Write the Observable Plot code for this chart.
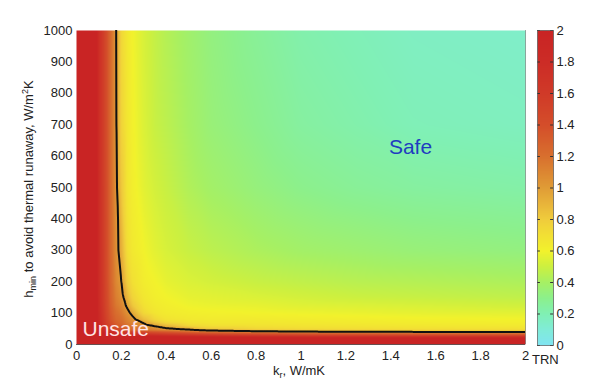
<!DOCTYPE html>
<html><head><meta charset="utf-8">
<script src="https://cdn.jsdelivr.net/npm/d3@7"></script>
<script src="https://cdn.jsdelivr.net/npm/@observablehq/plot@0.6"></script>
<style>
body{margin:0;background:#fff}
#wrap{position:relative;width:600px;height:388px;font-family:"Liberation Sans",Arial,sans-serif;overflow:hidden}
#trn{position:absolute;left:532px;top:352px;font-size:13px;color:#222}
</style>
</head><body><div id="wrap"><div id="trn">TRN</div></div>
<script>
// grid of thermal conductivity k_r (W/mK)
const kValues = [0, 0.05, 0.1, 0.125, 0.15, 0.175, 0.2, 0.225, 0.25, 0.3, 0.35, 0.4, 0.5, 0.6, 0.8, 1.0, 1.25, 1.5, 2.0];
// grid of heat transfer coefficient h (W/m2K)
const hValues = [0, 10, 20, 30, 35, 40, 45, 50, 60, 70, 80, 100, 125, 150, 200, 300, 500, 700, 1000];
// TRN, one row per h value (values above 2 saturate to red)
const trnRows = [
  [3,3,3,3,3,3,3,3,3,3,3,3,3,3,3,3,3,3,3],
  [3,3,3,3,3,3,3,3,3,3,3,3,3,3,3,3,3,3,3],
  [3,3,2.80,2.70,2.70,2.65,2.60,2.50,2.45,2.40,2.35,2.30,2.25,2.20,2.15,2.10,2.05,2.03,2.00],
  [3,3,2.40,2.30,2.20,2.10,2.06,1.95,1.88,1.81,1.76,1.72,1.65,1.60,1.54,1.49,1.46,1.43,1.40],
  [3,3,2.20,2.10,2.00,1.90,1.84,1.73,1.66,1.59,1.54,1.50,1.45,1.40,1.35,1.30,1.27,1.25,1.22],
  [3,3,2.05,1.95,1.85,1.75,1.68,1.57,1.50,1.43,1.38,1.34,1.27,1.20,1.12,1.06,1.03,1.01,0.98],
  [3,3,1.95,1.80,1.65,1.55,1.46,1.35,1.28,1.21,1.16,1.12,1.06,0.98,0.86,0.81,0.79,0.77,0.75],
  [3,3,1.92,1.72,1.55,1.45,1.36,1.27,1.22,1.13,1.08,1.03,0.95,0.80,0.74,0.72,0.71,0.70,0.69],
  [3,3,1.90,1.66,1.47,1.35,1.28,1.20,1.15,1.06,0.98,0.88,0.74,0.70,0.69,0.68,0.67,0.66,0.65],
  [3,3,1.88,1.62,1.42,1.30,1.24,1.15,1.10,0.98,0.83,0.74,0.68,0.66,0.66,0.65,0.64,0.63,0.62],
  [3,3,1.86,1.60,1.38,1.26,1.21,1.12,1.05,0.86,0.74,0.68,0.65,0.64,0.64,0.63,0.62,0.61,0.60],
  [3,3,1.84,1.57,1.35,1.22,1.16,1.06,0.95,0.74,0.67,0.64,0.62,0.61,0.60,0.59,0.58,0.57,0.56],
  [3,3,1.82,1.55,1.32,1.17,1.10,0.97,0.82,0.69,0.64,0.62,0.59,0.58,0.57,0.55,0.54,0.53,0.51],
  [3,3,1.81,1.54,1.30,1.14,1.06,0.90,0.76,0.66,0.62,0.60,0.57,0.56,0.54,0.52,0.50,0.49,0.47],
  [3,3,1.80,1.53,1.28,1.10,1.00,0.80,0.70,0.63,0.60,0.57,0.54,0.52,0.49,0.47,0.45,0.44,0.42],
  [3,3,1.79,1.52,1.27,1.07,0.92,0.72,0.65,0.60,0.56,0.53,0.49,0.46,0.42,0.39,0.37,0.35,0.33],
  [3,3,1.78,1.51,1.26,1.05,0.82,0.68,0.62,0.56,0.52,0.49,0.43,0.39,0.34,0.30,0.27,0.25,0.23],
  [3,3,1.77,1.50,1.25,1.03,0.76,0.67,0.61,0.54,0.49,0.46,0.40,0.35,0.30,0.25,0.22,0.19,0.17],
  [3,3,1.77,1.50,1.25,1.02,0.74,0.66,0.60,0.53,0.48,0.44,0.38,0.33,0.27,0.22,0.19,0.16,0.14]
];
const kTicks = [0, 0.2, 0.4, 0.6, 0.8, 1, 1.2, 1.4, 1.6, 1.8, 2];
const hTicks = [0, 100, 200, 300, 400, 500, 600, 700, 800, 900, 1000];
const trnTicks = [0, 0.2, 0.4, 0.6, 0.8, 1, 1.2, 1.4, 1.6, 1.8, 2];
const cmapStops = [0, 0.1, 0.2, 0.3, 0.4, 0.5, 0.6, 0.7, 0.8, 0.9, 1.0, 1.1, 1.2, 1.4, 1.6, 1.8, 2.0];
const cmapColors = ["#80e4f2","#80ecd8","#80f0b4","#8cf08c","#a6f064","#ccf040","#f2f22c","#f2e034","#f0cc3c","#e8b43a","#e09c36","#dc8632","#d8702e","#d44e2a","#d03a28","#cc2c26","#c92424"];

const data = [];
hValues.forEach((h, i) => kValues.forEach((k, j) => data.push({k, h, v: trnRows[i][j]})));

// Plot's barycentric interpolation inside the sampled area; pixels beyond the
// sampled area repeat the nearest edge pixel, so the contour ring closes outside the frame.
const bary = Plot.interpolatorBarycentric ? Plot.interpolatorBarycentric() : null;
function edgeClamped(index, width, height, X, Y, V) {
  const W = bary(index, width, height, X, Y, V);
  let minX = Infinity, maxX = -Infinity, minY = Infinity, maxY = -Infinity;
  for (const i of index) {
    if (X[i] < minX) minX = X[i]; if (X[i] > maxX) maxX = X[i];
    if (Y[i] < minY) minY = Y[i]; if (Y[i] > maxY) maxY = Y[i];
  }
  const x0 = Math.max(0, Math.ceil(minX) + 1), x1 = Math.min(width - 1, Math.floor(maxX) - 2);
  const y0 = Math.max(0, Math.ceil(minY) + 1), y1 = Math.min(height - 1, Math.floor(maxY) - 2);
  const out = new Float64Array(width * height);
  for (let y = 0; y < height; ++y) {
    const sy = Math.min(y1, Math.max(y0, y));
    for (let x = 0; x < width; ++x) {
      const sx = Math.min(x1, Math.max(x0, x));
      out[y * width + x] = W[sy * width + sx];
    }
  }
  return out;
}
const contourInterp = bary ? edgeClamped : "barycentric";

const colorScale = {type: "linear", domain: cmapStops, range: cmapColors, clamp: true};
const font = {fontFamily: '"Liberation Sans", Arial, sans-serif', fontSize: "13px", color: "#222", background: "transparent", position: "absolute", left: "0px", top: "0px", overflow: "visible"};

const chart = Plot.plot({
  width: 600, height: 388,
  marginLeft: 76, marginRight: 75, marginTop: 30, marginBottom: 44,
  style: font,
  x: {domain: [0, 2], ticks: kTicks, tickFormat: d => String(d), tickSize: 0, tickPadding: 6, label: null},
  y: {domain: [0, 1000], ticks: hTicks, tickFormat: d => String(d), tickSize: 0, tickPadding: 4, label: null},
  color: colorScale,
  marks: [
    Plot.raster(data, {x: "k", y: "h", fill: "v", interpolate: "barycentric", pixelSize: 1, x1: 0, x2: 2, y1: 0, y2: 1000}),
    Plot.contour(data, {x: "k", y: "h", value: "v", interpolate: contourInterp, pixelSize: 1, thresholds: [1], stroke: "#111", strokeWidth: 2, fill: "none", x1: -0.06, x2: 2.06, y1: -30, y2: 1030, clip: true}),
    Plot.ruleY([0], {stroke: "#333", strokeOpacity: 0.7}),
    Plot.ruleX([2], {stroke: "#555", strokeOpacity: 0.5}),
    Plot.text(["Unsafe"], {frameAnchor: "bottom-left", textAnchor: "start", lineAnchor: "middle", dx: 6, dy: -15, fill: "#ffe4e4", fontSize: 21}),
    Plot.text(["Safe"], {frameAnchor: "top-left", textAnchor: "middle", lineAnchor: "middle", dx: 334, dy: 117, fill: "#1f3cc0", fontSize: 21})
  ]
});

const cbar = Plot.plot({
  width: 63, height: 388,
  marginLeft: 0, marginRight: 47, marginTop: 30, marginBottom: 43,
  style: {...font, left: "537px"},
  x: {domain: [0, 1], axis: null},
  y: {domain: [0, 2], ticks: trnTicks, tickFormat: d => String(d), axis: "right", tickSize: 0, tickPadding: 3, label: null},
  color: colorScale,
  marks: [
    Plot.raster({x1: 0, x2: 1, y1: 0, y2: 2, fill: (x, y) => y, pixelSize: 1}),
    Plot.ruleY(trnTicks, {y: d => d, x1: 0, x2: 0.18, stroke: "#333"}),
    Plot.ruleY(trnTicks, {y: d => d, x1: 0.82, x2: 1, stroke: "#333"}),
    Plot.frame({stroke: "#555", strokeOpacity: 0.7})
  ]
});

const wrap = document.getElementById("wrap");
wrap.appendChild(chart);
wrap.appendChild(cbar);

const svg = d3.select(chart);
const yl = svg.append("text")
  .attr("transform", "translate(33,189) rotate(-90)")
  .attr("text-anchor", "middle").attr("fill", "#222").attr("font-size", 13);
yl.append("tspan").text("h");
yl.append("tspan").attr("font-size", 9).attr("dy", 3).text("min");
yl.append("tspan").attr("dy", -3).text(" to avoid thermal runaway, W/m");
yl.append("tspan").attr("font-size", 9).attr("dy", -5).text("2");
yl.append("tspan").attr("dy", 5).text("K");

const xl = svg.append("text")
  .attr("x", 299).attr("y", 375)
  .attr("text-anchor", "middle").attr("fill", "#222").attr("font-size", 13);
xl.append("tspan").text("k");
xl.append("tspan").attr("font-size", 9).attr("dy", 3).text("r");
xl.append("tspan").attr("dy", -3).text(", W/mK");
</script>
</body></html>
